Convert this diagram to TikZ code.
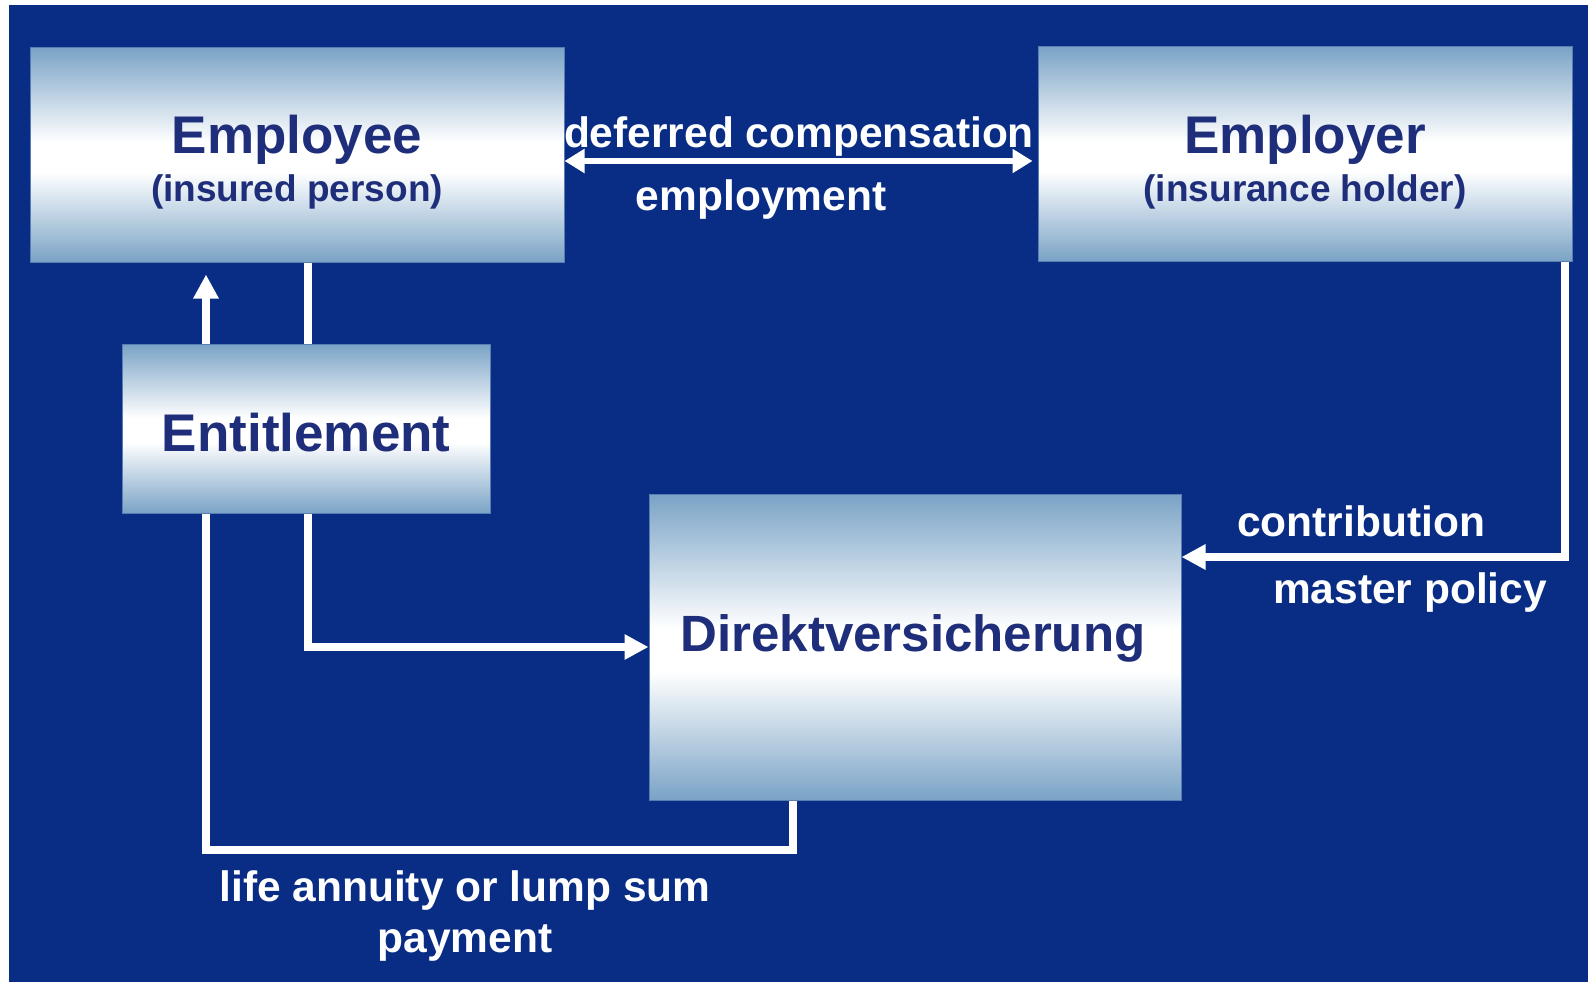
\documentclass[tikz,border=0pt]{standalone}
\usepackage{fontspec}
\setmainfont{Liberation Sans}
\usetikzlibrary{arrows.meta,calc}

\definecolor{bgblue}{RGB}{9,45,132}
\definecolor{steel}{RGB}{122,163,198}
\definecolor{edgeblue}{RGB}{88,125,178}
\definecolor{navy}{RGB}{31,46,122}

% light band in the middle, steel blue at top and bottom
\pgfdeclareverticalshading{boxgrad}{100bp}{color(0bp)=(steel); color(25bp)=(steel); color(46bp)=(white); color(53bp)=(white); color(75bp)=(steel); color(100bp)=(steel)}

\tikzset{
  panel/.style={rectangle, inner sep=0pt, shading=boxgrad, draw=edgeblue, line width=1pt},
  title/.style={text=navy, font=\fontsize{53}{60}\selectfont\bfseries, anchor=base, inner sep=0pt},
  subtitle/.style={text=navy, font=\fontsize{37}{44}\selectfont\bfseries, anchor=base, inner sep=0pt},
  flowlabel/.style={text=white, font=\fontsize{42.5}{50}\selectfont\bfseries, anchor=base, inner sep=0pt},
  flow/.style={draw=white, line width=8pt, line join=miter, -{Triangle[length=24pt,width=24pt]}},
  twoway/.style={draw=white, line width=6pt, {Triangle[length=20pt,width=23pt]}-{Triangle[length=20pt,width=23pt]}},
}

\begin{document}
\begin{tikzpicture}[x=1pt,y=-1pt]
  \useasboundingbox (0,0) rectangle (1588,982);
  \fill[white] (0,0) rectangle (1588,982);
  \fill[bgblue] (9,5) rectangle (1588,982);

  % main boxes
  \node[panel, minimum width=534pt, minimum height=214pt] (emp) at (297,155) {};
  \node[panel, minimum width=534pt, minimum height=214pt] (emr) at (1305,154) {};
  \node[panel, minimum width=532pt, minimum height=306pt] (dir) at (915,647) {};

  % bends of the connectors
  \coordinate (k1) at (308,647);
  \coordinate (k2) at (1565,557);
  \coordinate (k3) at (793,850);
  \coordinate (k4) at (206,850);

  % connectors
  \draw[twoway] ($(emp.east)+(0,6)$) -- ($(emr.west)+(-5,7)$);
  \draw[flow] (emp.south -| k1) |- (dir.west);
  \draw[flow] (emr.south -| k2) -- (k2) -- (dir.east |- k2);
  \draw[flow] (dir.south -| k3) -- (k3) -- (k4) -- ($(emp.south -| k4)+(0,12)$);

  % box drawn over the connectors that pass behind it
  \node[panel, minimum width=367.5pt, minimum height=169pt] (ent) at (306.25,428.5) {};

  % box texts
  \node[title] (empT) at ($(emp.center)+(0,-2)$) {Employee};
  \node[subtitle] (empS) at ($(emp.center)+(0,46)$) {(insured person)};
  \node[title] (emrT) at ($(emr.center)+(0,-1)$) {Employer};
  \node[subtitle] (emrS) at ($(emr.center)+(0,47)$) {(insurance holder)};
  \node[title] (entT) at ($(ent.center)+(0,22.5)$) {Entitlement};
  \node[title, font=\fontsize{51}{58}\selectfont\bfseries] (dirT) at ($(dir.center)+(-2,4)$) {Direktversicherung};

  % connector labels
  \node[flowlabel] (lDef) at (799,147) {deferred compensation};
  \node[flowlabel] (lEmp) at (761,210) {employment};
  \node[flowlabel] (lCon) at (1361,536) {contribution};
  \node[flowlabel] (lMas) at (1410,603) {master policy};
  \node[flowlabel] (lLif) at (465,901) {life annuity or lump sum};
  \node[flowlabel] (lPay) at (465,952) {payment};
\end{tikzpicture}
\end{document}
